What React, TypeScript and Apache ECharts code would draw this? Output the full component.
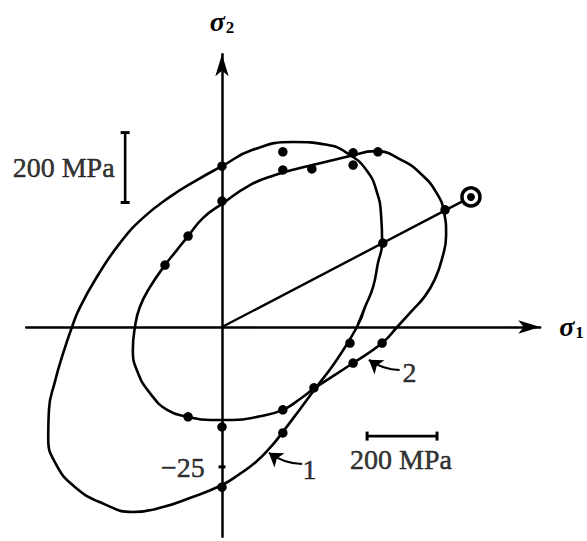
import React, { useEffect, useRef } from "react";
import * as echarts from "echarts";

// All values in MPa (sigma1, sigma2)
const curve1: number[][] = [
  [386, 0], [409, 57], [432, 114], [446, 183], [458, 240], [455, 320], [443, 386], [415, 446],
  [366, 492], [300, 521], [203, 529], [86, 506], [0, 460], [-72, 420], [-149, 372], [-226, 312],
  [-292, 240], [-358, 143], [-406, 57], [-429, 0], [-455, -77], [-478, -157], [-495, -237],
  [-497, -317], [-475, -392], [-420, -458], [-338, -506], [-255, -529], [-169, -515], [-92, -489],
  [0, -452], [51, -420], [97, -386], [137, -346], [174, -300], [223, -235], [266, -177], [326, -97],
];

const curve2: number[][] = [
  [501, 0], [543, 46], [581, 89], [609, 137], [629, 194], [641, 263], [635, 329], [612, 386],
  [572, 435], [518, 475], [438, 503], [366, 489], [295, 472], [223, 455], [152, 435], [80, 406],
  [0, 352], [-54, 312], [-97, 260], [-129, 220], [-163, 177], [-206, 114], [-235, 57], [-249, 0],
  [-255, -66], [-240, -132], [-206, -189], [-157, -237], [-97, -257], [-34, -266], [31, -266],
  [109, -255], [174, -237], [223, -206], [266, -174], [375, -103], [458, -46],
];

const measuredPoints: number[][] = [
  [0, 460], [0, 360], [174, 501], [174, 449], [257, 452], [375, 498], [375, 463], [446, 501],
  [638, 335], [460, 240], [366, -46], [458, -46], [375, -103], [263, -174], [174, -237],
  [174, -303], [-97, -257], [0, -286], [0, -458], [-97, 260], [-163, 177],
];

const loadPath: number[][] = [[0, 0], [712, 372]];
const loadPoint: number[][] = [[712, 372]];
const scaleBarVertical: number[][] = [[-277, 356], [-277, 556]];
const scaleBarHorizontal: number[][] = [[415, -312], [615, -312]];
const axisMark: number[][] = [[0, -400]];

const labelTexts: string[] = ["200 MPa", "200 MPa", "\u221225", "1", "2"];
const labelPositions: number[][] = [[-453, 455], [512, -380], [-112, -403], [250, -407], [536, -129]];

const pointerArrows: number[][][] = [
  [[229, -392], [134, -360]],
  [[508, -123], [420, -94]],
];

const SERIF = '"Liberation Serif", "DejaVu Serif", serif';
const INK = "#000";

function closeLoop(pts: number[][]) {
  return [...pts, pts[0], pts[1]];
}

export default function App() {
  const ref = useRef<HTMLDivElement>(null);

  useEffect(() => {
    const chart = echarts.init(ref.current!, null, { renderer: "svg" });
    const axisNameRich = {
      s: { fontFamily: SERIF, fontStyle: "italic", fontWeight: "bold", fontSize: 28, color: INK },
      n: { fontFamily: SERIF, fontWeight: "bold", fontSize: 17, color: INK, padding: [12, 0, 0, 1] },
    };
    const curveStyle = { color: INK, width: 2.6 };
    chart.setOption({
      animation: false,
      backgroundColor: "#fff",
      grid: { left: 26.2, right: 46.82, top: 54.27, bottom: 4.21, containLabel: false },
      xAxis: {
        type: "value",
        min: -560,
        max: 910,
        name: "{s|\u03c3}{n|1}",
        nameLocation: "end",
        nameGap: 19,
        nameTextStyle: { rich: axisNameRich },
        axisLine: {
          show: true,
          onZero: true,
          symbol: ["none", "arrow"],
          symbolSize: [10, 22],
          lineStyle: { color: INK, width: 2.5 },
        },
        axisTick: { show: false },
        axisLabel: { show: false },
        splitLine: { show: false },
      },
      yAxis: {
        type: "value",
        min: -600,
        max: 780,
        name: "{s|\u03c3}{n|2}",
        nameLocation: "end",
        nameGap: 18,
        nameTextStyle: { rich: axisNameRich },
        axisLine: {
          show: true,
          onZero: true,
          symbol: ["none", "arrow"],
          symbolSize: [10, 22],
          lineStyle: { color: INK, width: 2.5 },
        },
        axisTick: { show: false },
        axisLabel: { show: false },
        splitLine: { show: false },
      },
      series: [
        {
          type: "line",
          data: closeLoop(curve1),
          smooth: 0.5,
          showSymbol: false,
          lineStyle: curveStyle,
          silent: true,
        },
        {
          type: "line",
          data: closeLoop(curve2),
          smooth: 0.5,
          showSymbol: false,
          lineStyle: curveStyle,
          silent: true,
        },
        {
          type: "line",
          data: loadPath,
          showSymbol: false,
          lineStyle: { color: INK, width: 2.4 },
          silent: true,
        },
        {
          type: "scatter",
          data: measuredPoints,
          symbol: "circle",
          symbolSize: 9.5,
          itemStyle: { color: INK, opacity: 1 },
          silent: true,
        },
        {
          type: "scatter",
          data: loadPoint,
          symbol: "circle",
          symbolSize: 18,
          itemStyle: { color: "#fff", borderColor: INK, borderWidth: 3.5, opacity: 1 },
          silent: true,
          z: 5,
        },
        {
          type: "scatter",
          data: loadPoint,
          symbol: "circle",
          symbolSize: 8,
          itemStyle: { color: INK, opacity: 1 },
          silent: true,
          z: 6,
        },
        {
          type: "line",
          data: scaleBarVertical,
          showSymbol: true,
          symbol: "rect",
          symbolSize: [9, 3],
          itemStyle: { color: INK },
          lineStyle: { color: INK, width: 2.6 },
          silent: true,
        },
        {
          type: "line",
          data: scaleBarHorizontal,
          showSymbol: true,
          symbol: "rect",
          symbolSize: [3, 9],
          itemStyle: { color: INK },
          lineStyle: { color: INK, width: 2.6 },
          silent: true,
        },
        {
          type: "scatter",
          data: axisMark,
          symbol: "rect",
          symbolSize: [7, 3],
          itemStyle: { color: INK, opacity: 1 },
          silent: true,
        },
        {
          type: "lines",
          coordinateSystem: "cartesian2d",
          data: pointerArrows.map((c) => ({ coords: c })),
          symbol: ["none", "arrow"],
          symbolSize: [8, 13],
          lineStyle: { color: INK, width: 2, opacity: 1, curveness: 0.15 },
          silent: true,
        },
        {
          type: "scatter",
          data: labelPositions.map((p, i) => ({ value: p, name: labelTexts[i] })),
          symbolSize: 1,
          itemStyle: { color: "rgba(0,0,0,0)" },
          label: {
            show: true,
            position: "inside",
            formatter: "{b}",
            fontFamily: SERIF,
            fontSize: 28,
            color: INK,
            textBorderColor: INK,
            textBorderWidth: 0.5,
          },
          silent: true,
        },
      ],
    });
    return () => chart.dispose();
  }, []);

  return (
    <div
      ref={ref}
      style={{ position: "absolute", left: 0, top: 0, width: 587, height: 541, background: "#fff" }}
    />
  );
}
